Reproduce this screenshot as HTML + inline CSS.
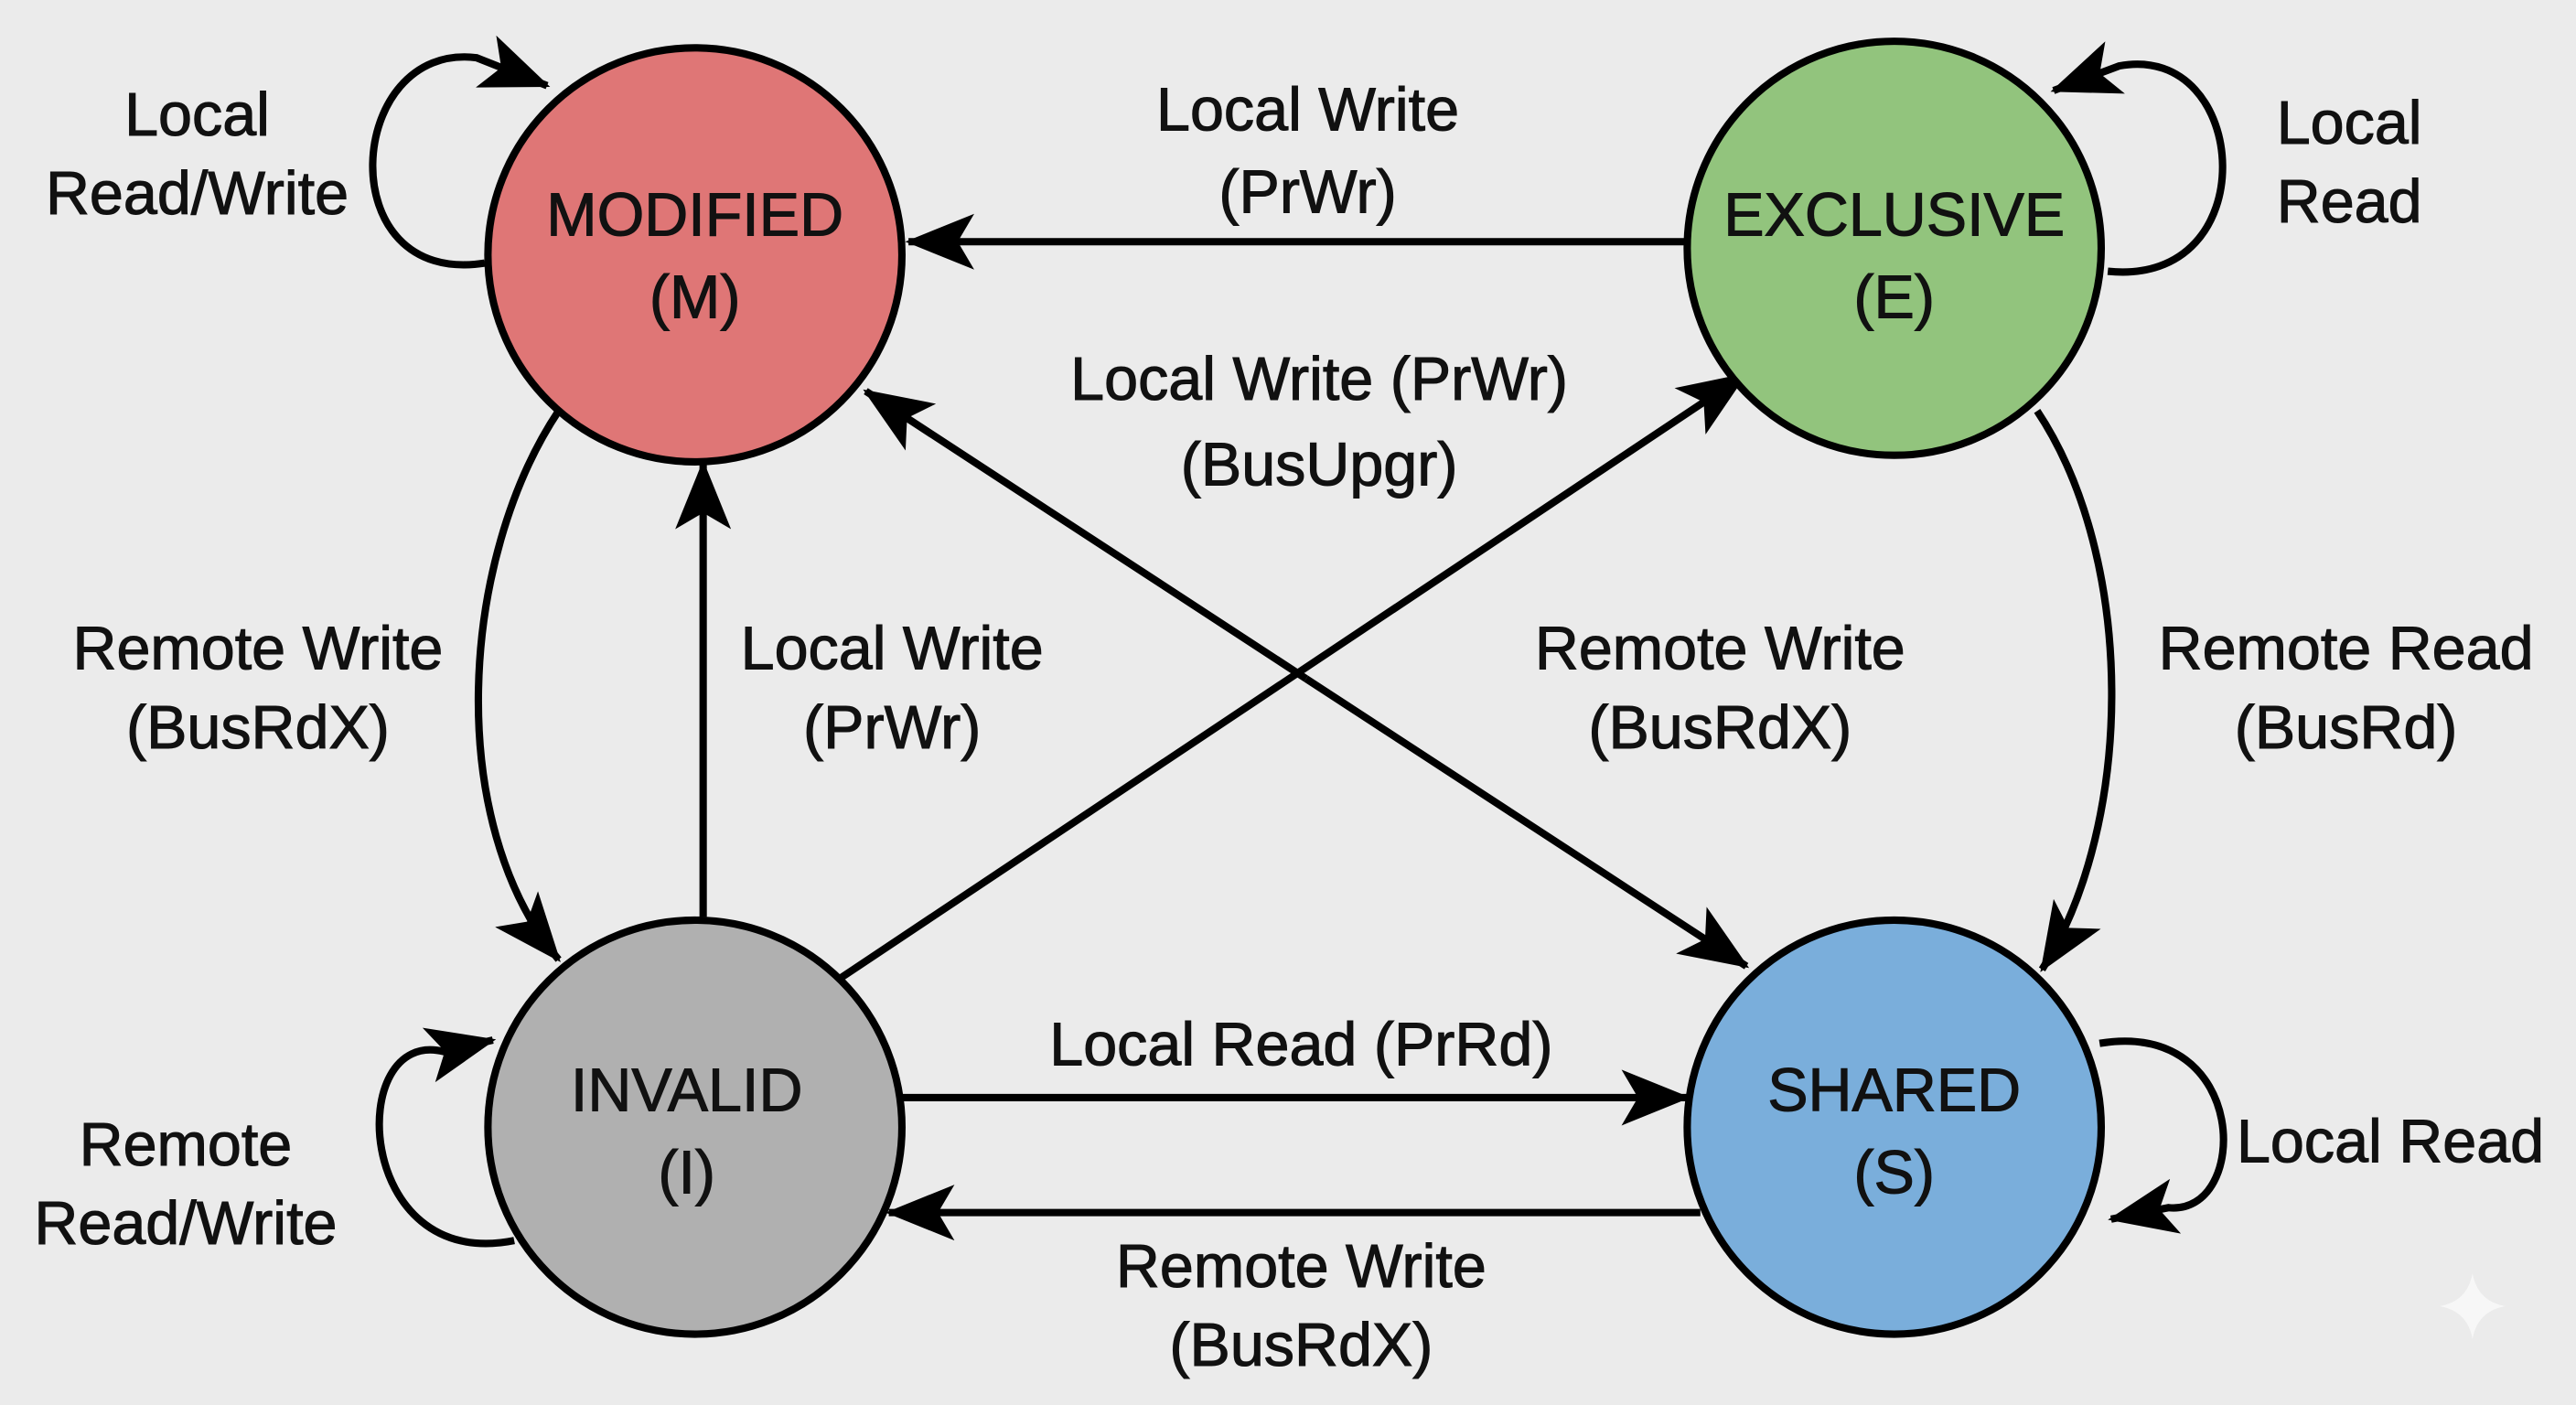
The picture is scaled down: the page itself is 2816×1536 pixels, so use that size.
<!DOCTYPE html>
<html><head><meta charset="utf-8"><style>
html,body{margin:0;padding:0;background:#ebebeb;}
svg{display:block;}
text{font-family:"Liberation Sans",Arial,sans-serif;font-size:37px;fill:#111;stroke:#111;stroke-width:0.6;text-anchor:middle;dominant-baseline:central;}
</style></head><body>
<svg width="2816" height="1536" viewBox="0 0 1568 855" xmlns="http://www.w3.org/2000/svg">
<defs>
<marker id="a" markerUnits="userSpaceOnUse" markerWidth="42" markerHeight="34" refX="40" refY="17" orient="auto">
<path d="M0,0 L42,17 L0,34 L10,17 Z" fill="#000"/>
</marker>
</defs>
<rect width="1568" height="855" fill="#ebebeb"/>
<g stroke="#000" stroke-width="4.5" fill="none">
<line x1="1026" y1="147" x2="553" y2="147" marker-end="url(#a)"/>
<line x1="428" y1="558" x2="428" y2="282" marker-end="url(#a)"/>
<line x1="549" y1="668" x2="1027" y2="668" marker-end="url(#a)"/>
<line x1="1035" y1="738" x2="541" y2="738" marker-end="url(#a)"/>
<line x1="795" y1="413" x2="527" y2="238" marker-end="url(#a)"/>
<line x1="795" y1="413" x2="1063" y2="588" marker-end="url(#a)"/>
<line x1="512" y1="595" x2="1062" y2="228" marker-end="url(#a)"/>
<path d="M340,250 C280,340 270,500 340,584" marker-end="url(#a)"/>
<path d="M1240,250 C1300,340 1300,500 1243,590" marker-end="url(#a)"/>
<path d="M295,160 C200,175 210,25 290,35 L333,52" marker-end="url(#a)"/>
<path d="M1283,165 C1380,175 1370,25 1290,40 L1250,55" marker-end="url(#a)"/>
<path d="M313,755 C215,775 210,625 270,640 L300,633" marker-end="url(#a)"/>
<path d="M1278,635 C1370,620 1370,740 1320,735 L1285,742" marker-end="url(#a)"/>
</g>
<g stroke="#000" stroke-width="4.5">
<circle cx="423" cy="155" r="126" fill="#df7676"/>
<circle cx="1153" cy="151" r="126" fill="#92c47d"/>
<circle cx="423" cy="686" r="126" fill="#b0b0b0"/>
<circle cx="1153" cy="686" r="126" fill="#7aaedb"/>
</g>
<g>
<text x="423" y="131">MODIFIED</text><text x="423" y="181">(M)</text>
<text x="1153" y="131">EXCLUSIVE</text><text x="1153" y="181">(E)</text>
<text x="418" y="664">INVALID</text><text x="418" y="714">(I)</text>
<text x="1153" y="664">SHARED</text><text x="1153" y="714">(S)</text>

<text x="120" y="70">Local</text><text x="120" y="118">Read/Write</text>
<text x="796" y="67">Local Write</text><text x="796" y="117">(PrWr)</text>
<text x="1430" y="75">Local</text><text x="1430" y="123">Read</text>
<text x="803" y="231">Local Write (PrWr)</text><text x="803" y="283">(BusUpgr)</text>
<text x="157" y="395">Remote Write</text><text x="157" y="443">(BusRdX)</text>
<text x="543" y="395">Local Write</text><text x="543" y="443">(PrWr)</text>
<text x="1047" y="395">Remote Write</text><text x="1047" y="443">(BusRdX)</text>
<text x="1428" y="395">Remote Read</text><text x="1428" y="443">(BusRd)</text>
<text x="792" y="636">Local Read (PrRd)</text>
<text x="113" y="697">Remote</text><text x="113" y="745">Read/Write</text>
<text x="1455" y="695">Local Read</text>
<text x="792" y="771">Remote Write</text><text x="792" y="819">(BusRdX)</text>
</g>
<path d="M1505,775 Q1508,792 1525,795 Q1508,798 1505,815 Q1502,798 1485,795 Q1502,792 1505,775 Z" fill="#f7f7f7"/>
</svg>
</body></html>
